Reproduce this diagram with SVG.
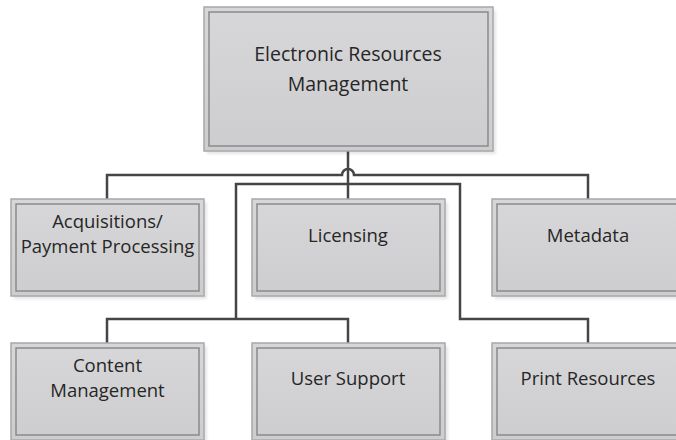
<svg xmlns="http://www.w3.org/2000/svg" width="676" height="440" viewBox="0 0 676 440">
<defs>
<linearGradient id="g" x1="0" y1="0" x2="0" y2="1">
<stop offset="0" stop-color="#d7d7d9"/>
<stop offset="1" stop-color="#cdcdcf"/>
</linearGradient>
<filter id="sh" x="-10%" y="-10%" width="120%" height="120%">
<feGaussianBlur stdDeviation="1.5"/>
</filter>
</defs>
<style>
.shadow{fill:#000;opacity:0.1;filter:url(#sh)}
.outer{fill:url(#g);stroke:#a8a8aa;stroke-width:1.5}
.inner{fill:none;stroke:#8a8a8c;stroke-width:1.5}
.lbl{font-family:"Open Sans","Noto Sans",sans-serif;font-size:18.5px;fill:#262626;text-anchor:middle}
.conn{fill:none;stroke:#454545;stroke-width:2.5;stroke-linejoin:miter}
</style>
<rect width="676" height="440" fill="#fff"/>
<g id="connectors">
<path class="conn" d="M348,151 V199"/>
<path class="conn" d="M107,199 V175 H342 A6,6 0 0 1 354,175 H588 V199"/>
<path class="conn" d="M236,319 V184 H460 V319 H588 V343"/>
<path class="conn" d="M107,343 V319 H348 V343"/>
</g>
<g id="n-erm">
<rect class="shadow" x="207" y="10" width="289" height="144"/>
<rect class="outer" x="204" y="7" width="289" height="144"/>
<rect class="inner" x="209" y="12" width="279" height="134"/>
<text class="lbl" x="348" y="61" style="font-size:19.5px">Electronic Resources</text>
<text class="lbl" x="348" y="91" style="font-size:19.5px">Management</text>
</g>
<g id="n-acq">
<rect class="shadow" x="14" y="202" width="193" height="97"/>
<rect class="outer" x="11" y="199" width="193" height="97"/>
<rect class="inner" x="16" y="204" width="183" height="87"/>
<text class="lbl" x="107.5" y="228">Acquisitions/</text>
<text class="lbl" x="107.5" y="253">Payment Processing</text>
</g>
<g id="n-lic">
<rect class="shadow" x="255" y="202" width="193" height="97"/>
<rect class="outer" x="252" y="199" width="193" height="97"/>
<rect class="inner" x="257" y="204" width="183" height="87"/>
<text class="lbl" x="348" y="242">Licensing</text>
</g>
<g id="n-meta">
<rect class="shadow" x="495" y="202" width="193" height="97"/>
<rect class="outer" x="492" y="199" width="193" height="97"/>
<rect class="inner" x="497" y="204" width="183" height="87"/>
<text class="lbl" x="588" y="242">Metadata</text>
</g>
<g id="n-content">
<rect class="shadow" x="14" y="346" width="193" height="97"/>
<rect class="outer" x="11" y="343" width="193" height="97"/>
<rect class="inner" x="16" y="348" width="183" height="87"/>
<text class="lbl" x="107.5" y="372">Content</text>
<text class="lbl" x="107.5" y="397">Management</text>
</g>
<g id="n-user">
<rect class="shadow" x="255" y="346" width="193" height="97"/>
<rect class="outer" x="252" y="343" width="193" height="97"/>
<rect class="inner" x="257" y="348" width="183" height="87"/>
<text class="lbl" x="348" y="385">User Support</text>
</g>
<g id="n-print">
<rect class="shadow" x="495" y="346" width="193" height="97"/>
<rect class="outer" x="492" y="343" width="193" height="97"/>
<rect class="inner" x="497" y="348" width="183" height="87"/>
<text class="lbl" x="588" y="385">Print Resources</text>
</g>
</svg>
